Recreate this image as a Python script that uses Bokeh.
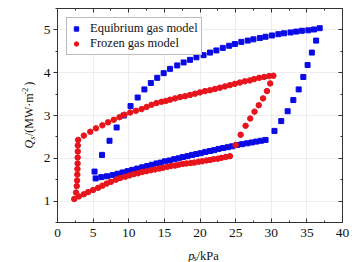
import math
from bokeh.plotting import figure
from bokeh.layouts import row, column
from bokeh.models import LinearAxis, SingleIntervalTicker, Label, Range1d, CustomJSTickFormatter
from bokeh.embed import file_html
from bokeh.resources import INLINE

# ---------------- data ----------------
# Equilibrium gas model (blue squares), p_s [kPa], Q_s [MW/m^2]
eq_p = [5.35, 6.15, 6.95, 7.75, 8.45, 9.15, 9.85, 10.5, 11.2, 11.9, 12.6, 13.25,
        13.9, 14.5, 15.1, 15.75, 16.4, 17.0, 17.6, 18.25, 18.9, 19.5, 20.1, 20.75,
        21.4, 22.0, 22.6, 23.25, 23.9, 24.5, 25.2, 25.9, 26.6, 27.25, 27.9, 28.55, 29.2,
        30.45, 31.4, 32.3, 33.1, 33.85, 34.5, 35.1, 35.7, 36.3, 36.8,
        36.0, 35.2, 34.3, 33.5, 32.7, 31.8, 31.0, 30.1, 29.2, 28.4, 27.5, 26.7, 25.8,
        24.9, 24.1, 23.2, 22.3, 21.4, 20.5, 19.5, 18.6, 17.7, 16.8, 15.8, 14.9, 14.0,
        13.1, 12.2, 11.25, 10.25, 9.3, 8.3, 7.3, 6.25, 5.2]
eq_q = [1.53, 1.56, 1.58, 1.61, 1.64, 1.67, 1.70, 1.73, 1.76, 1.79, 1.82, 1.85,
        1.88, 1.90, 1.93, 1.95, 1.98, 2.00, 2.03, 2.05, 2.08, 2.10, 2.12, 2.15,
        2.17, 2.19, 2.22, 2.24, 2.26, 2.28, 2.31, 2.33, 2.35, 2.37, 2.39, 2.41, 2.43,
        2.64, 2.87, 3.10, 3.36, 3.61, 3.90, 4.18, 4.47, 4.75, 5.04,
        5.01, 4.99, 4.98, 4.96, 4.94, 4.92, 4.90, 4.87, 4.84, 4.81, 4.78, 4.75, 4.72,
        4.67, 4.63, 4.58, 4.52, 4.47, 4.41, 4.36, 4.30, 4.24, 4.17, 4.09, 3.99, 3.88,
        3.76, 3.61, 3.42, 3.22, 3.00, 2.72, 2.41, 2.08, 1.69]

# Frozen gas model (red circles)
fr_p = [2.35, 3.0, 3.7, 4.3, 5.0, 5.7, 6.3, 6.9, 7.5, 8.2, 8.8, 9.5, 10.1, 10.7,
        11.3, 11.9, 12.5, 13.1, 13.7, 14.3, 14.8, 15.4, 15.9, 16.5, 17.0, 17.6, 18.1,
        18.7, 19.2, 19.8, 20.3, 20.9, 21.4, 21.9, 22.5, 23.0, 23.6, 24.2,
        25.0, 25.7, 26.4, 27.05, 27.65, 28.25, 28.85, 29.4, 29.85,
        30.3, 29.7, 29.0, 28.3, 27.6, 27.0, 26.3, 25.6, 24.9, 24.2, 23.5, 22.8, 22.1,
        21.4, 20.7, 20.0, 19.3, 18.6, 17.9, 17.2, 16.5, 15.8, 15.2, 14.6, 13.9, 13.2,
        12.5, 11.8, 11.0, 10.2, 9.4, 8.7, 7.9, 7.1, 6.3, 5.4, 4.6, 3.7, 2.9,
        2.85, 2.85, 2.83, 2.82, 2.80, 2.78, 2.75, 2.70, 2.60]
fr_q = [1.05, 1.11, 1.16, 1.21, 1.26, 1.31, 1.36, 1.41, 1.45, 1.50, 1.54, 1.57, 1.60, 1.63,
        1.65, 1.68, 1.70, 1.72, 1.74, 1.76, 1.78, 1.80, 1.82, 1.83, 1.85, 1.87, 1.88,
        1.89, 1.90, 1.92, 1.93, 1.95, 1.96, 1.98, 1.99, 2.01, 2.03, 2.05,
        2.31, 2.55, 2.76, 2.93, 3.09, 3.24, 3.40, 3.57, 3.75,
        3.93, 3.92, 3.90, 3.88, 3.85, 3.82, 3.80, 3.77, 3.74, 3.71, 3.68, 3.65, 3.62,
        3.59, 3.57, 3.54, 3.51, 3.48, 3.45, 3.43, 3.40, 3.37, 3.34, 3.32, 3.29, 3.25,
        3.20, 3.15, 3.11, 3.07, 3.02, 2.96, 2.90, 2.84, 2.77, 2.70, 2.62, 2.53, 2.43,
        2.30, 2.16, 2.02, 1.88, 1.75, 1.62, 1.48, 1.35, 1.20]

eq_name = "Equibrium gas model"
fr_name = "Frozen gas model"
x_ticks_interval = 5
y_ticks_interval = 1

FONT = "Liberation Serif"
AX = "#333333"
TXT = "#111111"

# ---------------- main plot ----------------
p = figure(width=324, height=244, output_backend="svg", toolbar_location=None,
           x_range=Range1d(0, 40), y_range=Range1d(0.5, 5.5),
           min_border_left=15, min_border_right=22, min_border_top=8, min_border_bottom=22)
p.outline_line_color = None
p.background_fill_color = "white"
p.border_fill_color = "white"

xt = SingleIntervalTicker(interval=x_ticks_interval, num_minor_ticks=2)
yt = SingleIntervalTicker(interval=y_ticks_interval, num_minor_ticks=2)

xa = p.xaxis[0]
xa.ticker = xt
xa.major_tick_in = 4
xa.major_tick_out = 0
xa.minor_tick_in = 2
xa.minor_tick_out = 0
xa.major_label_standoff = 6

ya = p.yaxis[0]
ya.ticker = yt
ya.major_tick_in = 0
ya.major_tick_out = 4
ya.minor_tick_in = 0
ya.minor_tick_out = 2
ya.major_label_standoff = 3

for ax in (xa, ya):
    ax.axis_line_color = AX
    ax.major_tick_line_color = AX
    ax.minor_tick_line_color = AX
    ax.major_label_text_font = FONT
    ax.major_label_text_font_size = "13.5px"
    ax.major_label_text_color = TXT

top = LinearAxis(ticker=SingleIntervalTicker(interval=x_ticks_interval, num_minor_ticks=2),
                 formatter=CustomJSTickFormatter(code="return ''"), major_label_standoff=0,
                 major_tick_in=4, major_tick_out=0, minor_tick_in=2, minor_tick_out=0,
                 axis_line_color=AX, major_tick_line_color=AX, minor_tick_line_color=AX)
right = LinearAxis(ticker=SingleIntervalTicker(interval=y_ticks_interval, num_minor_ticks=2),
                   formatter=CustomJSTickFormatter(code="return ''"), major_label_standoff=0,
                   major_tick_in=4, major_tick_out=0, minor_tick_in=2, minor_tick_out=0,
                   axis_line_color=AX, major_tick_line_color=AX, minor_tick_line_color=AX)
p.add_layout(top, "above")
p.add_layout(right, "right")

p.xgrid.ticker = xt
p.ygrid.ticker = yt
p.xgrid.grid_line_color = "#ededed"
p.ygrid.grid_line_color = "#ededed"

p.scatter(eq_p, eq_q, marker="square", size=5, color="#0a0ae6", legend_label=eq_name)
p.scatter(fr_p, fr_q, marker="circle", size=5.5, color="#e8141c", legend_label=fr_name)

lg = p.legend[0]
lg.location = "top_left"
lg.margin = 9
lg.padding = 3
lg.spacing = 0
lg.label_height = 11
lg.glyph_height = 11
lg.glyph_width = 12
lg.label_standoff = 8
lg.label_text_font = FONT
lg.label_text_font_size = "12.5px"
lg.label_text_color = TXT
lg.border_line_color = "#777777"
lg.border_line_width = 1
lg.background_fill_alpha = 1


def strip(w, h):
    f = figure(width=w, height=h, output_backend="svg", toolbar_location=None,
               x_range=Range1d(0, w), y_range=Range1d(0, h),
               x_axis_type=None, y_axis_type=None, min_border=0)
    f.grid.visible = False
    f.outline_line_color = None
    f.background_fill_color = "white"
    f.border_fill_color = "white"
    return f


def lab(f, x, y, txt, size, style="normal", angle=0.0, baseline="alphabetic"):
    f.add_layout(Label(x=x, y=y, text=txt, angle=angle,
                       text_font=FONT, text_font_size=size, text_font_style=style,
                       text_align="left", text_baseline=baseline, text_color=TXT))


# y axis title strip: Q_s/(MW·m^-2), rotated, centred on x = 28
ys = strip(40, 262)
A = math.pi / 2
lab(ys, 28, 114, "Q", "12px", "italic", A, "middle")
lab(ys, 31.5, 122.7, "s", "8.5px", "italic", A, "middle")
lab(ys, 28, 126.5, "/(MW·m", "12px", "normal", A, "middle")
lab(ys, 24, 168.2, "-2", "8px", "normal", A, "middle")
lab(ys, 28, 176.7, ")", "12px", "normal", A, "middle")

# x axis title strip: p_s/kPa
xs = strip(324, 18)
lab(xs, 148.5, 6.3, "p", "12.5px", "italic")
lab(xs, 154.5, 4.5, "s", "8.5px", "italic")
lab(xs, 158, 6.3, "/kPa", "12.5px")

layout = row(ys, column(p, xs, spacing=0), spacing=0)

open("out.html", "w").write(file_html(layout, INLINE))
